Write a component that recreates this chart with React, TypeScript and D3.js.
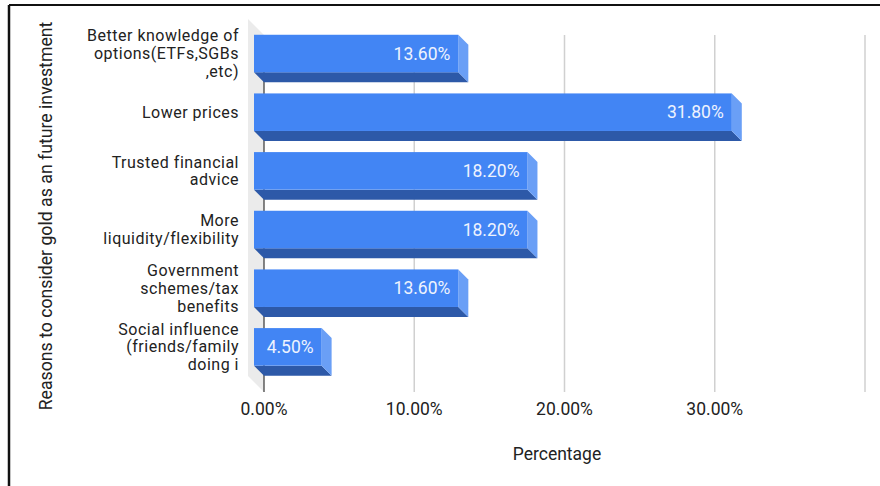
import React from "react";
import * as d3 from "d3";

const categories = [
  ["Better knowledge of", "options(ETFs,SGBs", ",etc)"],
  ["Lower prices"],
  ["Trusted financial", "advice"],
  ["More", "liquidity/flexibility"],
  ["Government", "schemes/tax", "benefits"],
  ["Social influence", "(friends/family", "doing i"],
];
const values = [13.6, 31.8, 18.2, 18.2, 13.6, 4.5];
const ticks = [0, 10, 20, 30, 40];
const tickLabels = ["0.00%", "10.00%", "20.00%", "30.00%", ""];

const W = 880;
const H = 486;
const DX = 10;
const DY = 10;
const FONT = "Roboto, 'Liberation Sans', Arial, sans-serif";

export default function App() {
  const ids = categories.map((_, i) => String(i));
  // back plane x scale
  const x = d3.scaleLinear().domain([0, 40]).range([264, 865]);
  // front plane band scale
  const y = d3
    .scaleBand<string>()
    .domain(ids)
    .range([24.2, 376.2])
    .paddingInner(0.36)
    .paddingOuter(0.18);
  const bw = y.bandwidth();

  return (
    <svg
      width={W}
      height={H}
      style={{ position: "absolute", left: 0, top: 0, background: "#fff" }}
      fontFamily={FONT}
    >
      <rect x={0} y={0} width={W} height={H} fill="#fff" />
      {/* frame */}
      <line x1={9} y1={5} x2={W} y2={5} stroke="#111" strokeWidth={2} />
      <line x1={9} y1={5} x2={9} y2={H} stroke="#111" strokeWidth={2.5} />

      {/* wall */}
      <polygon points="248,19 264,35 264,392 248,376" fill="#ebebeb" />

      {/* gridlines */}
      {ticks.slice(1).map((t) => (
        <line
          key={t}
          x1={x(t)}
          x2={x(t)}
          y1={35}
          y2={392}
          stroke="#d0d0d0"
          strokeWidth={1.5}
        />
      ))}
      {/* axis line */}
      <line x1={x(0)} x2={x(0)} y1={35} y2={392} stroke="#444" strokeWidth={1.3} />

      {/* bars */}
      {values.map((v, i) => {
        const x0 = x(0) - DX;
        const x1 = x(v) - DX;
        const y0 = y(ids[i])!;
        const y1 = y0 + bw;
        return (
          <g key={i}>
            <polygon
              points={`${x0},${y1} ${x1},${y1} ${x1 + DX},${y1 + DY} ${x0 + DX},${y1 + DY}`}
              fill="#2d59a8"
            />
            <polygon
              points={`${x1},${y0} ${x1 + DX},${y0 + DY} ${x1 + DX},${y1 + DY} ${x1},${y1}`}
              fill="#6a9ff6"
            />
            <rect x={x0} y={y0} width={x1 - x0} height={bw} fill="#4285f4" />
            <text
              x={x1 - 8}
              y={y0 + bw / 2 + 6}
              textAnchor="end"
              fontSize={17.5}
              fill="#eef3fe"
            >
              {v.toFixed(2) + "%"}
            </text>
          </g>
        );
      })}

      {/* category labels */}
      {categories.map((lines, i) => {
        const cy = y(ids[i])! + bw / 2;
        const lh = 17.8;
        const start = cy - ((lines.length - 1) * lh) / 2;
        return (
          <text
            key={i}
            textAnchor="end"
            fontSize={16}
            letterSpacing={0.5}
            fill="#222"
          >
            {lines.map((l, j) => (
              <tspan key={j} x={239} y={start + j * lh + 5.6}>
                {l}
              </tspan>
            ))}
          </text>
        );
      })}

      {/* x tick labels */}
      {ticks.map((t, i) => (
        <text
          key={t}
          x={x(t)}
          y={415}
          textAnchor="middle"
          fontSize={17.5}
          fill="#222"
        >
          {tickLabels[i]}
        </text>
      ))}

      {/* axis titles */}
      <text x={557} y={460} textAnchor="middle" fontSize={17.5} fill="#222">
        Percentage
      </text>
      <text
        transform="translate(52,216) rotate(-90)"
        textAnchor="middle"
        fontSize={17.7}
        fill="#222"
      >
        Reasons to consider gold as an future investment
      </text>
    </svg>
  );
}
